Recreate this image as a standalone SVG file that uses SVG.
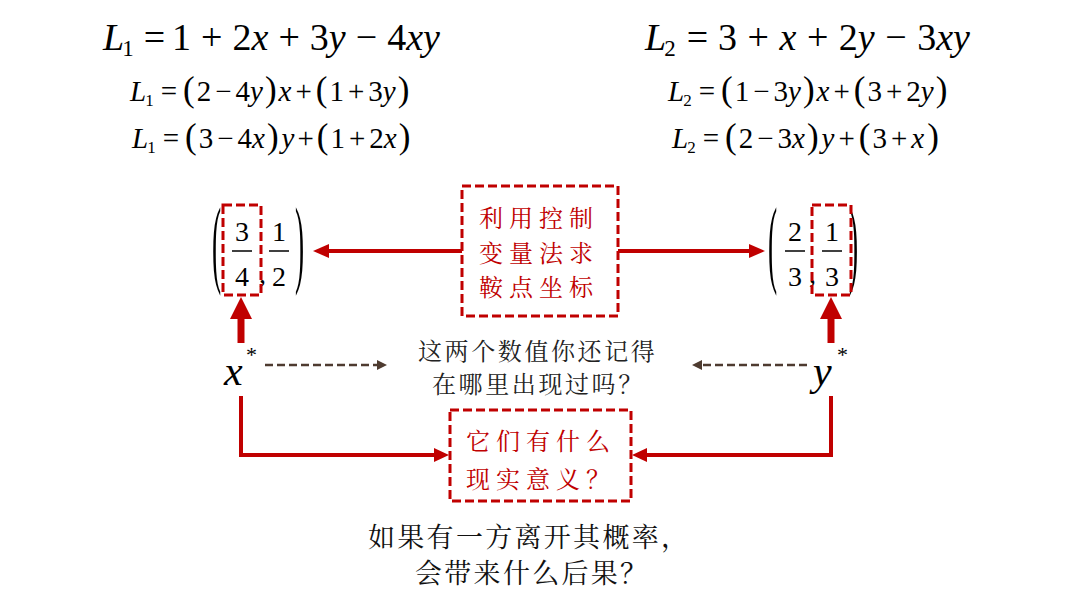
<svg xmlns="http://www.w3.org/2000/svg" width="1080" height="608" viewBox="0 0 1080 608">
<defs>
<style>
.i{font-style:italic}
.red{fill:#C00000}
.dbox{fill:none;stroke:#C00000;stroke-width:3;stroke-dasharray:9 4}
.rl{fill:none;stroke:#C00000;stroke-width:4}
.up{fill:none;stroke:#C00000;stroke-width:7}
.br{fill:none;stroke:#4E3B30;stroke-width:2.5;stroke-dasharray:8 4}
.bar{stroke:#000;stroke-width:1.5}
</style>
<marker id="ah" markerUnits="userSpaceOnUse" markerWidth="16" markerHeight="14" refX="6" refY="7" orient="auto"><path d="M0,0 L16,7 L0,14 z" fill="#C00000"/></marker>
<marker id="au" markerUnits="userSpaceOnUse" markerWidth="22" markerHeight="22" refX="8" refY="11" orient="auto"><path d="M0,0 L22,11 L0,22 z" fill="#C00000"/></marker>
<marker id="ac" markerUnits="userSpaceOnUse" markerWidth="15" markerHeight="14" refX="5" refY="7" orient="auto"><path d="M0,0 L15,7 L0,14 z" fill="#C00000"/></marker>
<marker id="ab" markerUnits="userSpaceOnUse" markerWidth="10" markerHeight="10" refX="3" refY="5" orient="auto"><path d="M0,0 L10,5 L0,10 z" fill="#4E3B30"/></marker>
</defs>
<rect width="1080" height="608" fill="#fff"/>

<g id="eq-left">
<text font-family="Liberation Serif" x="103" y="50" font-size="38"><tspan class="i">L</tspan><tspan font-size="23" dy="6" dx="-2">1</tspan><tspan dy="-6" dx="10">=</tspan><tspan dx="7">1</tspan><tspan dx="10">+</tspan><tspan dx="10">2</tspan><tspan class="i">x</tspan><tspan dx="10">+</tspan><tspan dx="10">3</tspan><tspan class="i">y</tspan><tspan dx="10">−</tspan><tspan dx="10">4</tspan><tspan class="i">xy</tspan></text>
<text font-family="Liberation Serif" x="130" y="101" font-size="29"><tspan class="i">L</tspan><tspan font-size="17" dy="5" dx="-1">1</tspan><tspan dy="-5" dx="7">=</tspan><tspan font-size="35" dx="6">(</tspan><tspan dx="2">2</tspan><tspan dx="4">−</tspan><tspan dx="4">4</tspan><tspan class="i">y</tspan><tspan font-size="35" dx="2">)</tspan><tspan class="i" dx="2">x</tspan><tspan dx="4">+</tspan><tspan font-size="35" dx="4">(</tspan><tspan dx="2">1</tspan><tspan dx="4">+</tspan><tspan dx="4">3</tspan><tspan class="i">y</tspan><tspan font-size="35" dx="2">)</tspan></text>
<text font-family="Liberation Serif" x="132" y="148" font-size="29"><tspan class="i">L</tspan><tspan font-size="17" dy="5" dx="-1">1</tspan><tspan dy="-5" dx="7">=</tspan><tspan font-size="35" dx="6">(</tspan><tspan dx="2">3</tspan><tspan dx="4">−</tspan><tspan dx="4">4</tspan><tspan class="i">x</tspan><tspan font-size="35" dx="2">)</tspan><tspan class="i" dx="3">y</tspan><tspan dx="3">+</tspan><tspan font-size="35" dx="3">(</tspan><tspan dx="2">1</tspan><tspan dx="4">+</tspan><tspan dx="4">2</tspan><tspan class="i">x</tspan><tspan font-size="35" dx="2">)</tspan></text>
</g>

<g id="eq-right">
<text font-family="Liberation Serif" x="645" y="50" font-size="38"><tspan class="i">L</tspan><tspan font-size="23" dy="6" dx="-2">2</tspan><tspan dy="-6" dx="11">=</tspan><tspan dx="10">3</tspan><tspan dx="10.5">+</tspan><tspan class="i" dx="10.5">x</tspan><tspan dx="10.5">+</tspan><tspan dx="10.5">2</tspan><tspan class="i">y</tspan><tspan dx="10.5">−</tspan><tspan dx="10.5">3</tspan><tspan class="i">xy</tspan></text>
<text font-family="Liberation Serif" x="668" y="101" font-size="29"><tspan class="i">L</tspan><tspan font-size="17" dy="5" dx="-1">2</tspan><tspan dy="-5" dx="7">=</tspan><tspan font-size="35" dx="6">(</tspan><tspan dx="2">1</tspan><tspan dx="4">−</tspan><tspan dx="4">3</tspan><tspan class="i">y</tspan><tspan font-size="35" dx="2">)</tspan><tspan class="i" dx="2">x</tspan><tspan dx="4">+</tspan><tspan font-size="35" dx="4">(</tspan><tspan dx="2">3</tspan><tspan dx="4">+</tspan><tspan dx="4">2</tspan><tspan class="i">y</tspan><tspan font-size="35" dx="2">)</tspan></text>
<text font-family="Liberation Serif" x="672" y="148" font-size="29"><tspan class="i">L</tspan><tspan font-size="17" dy="5" dx="-1">2</tspan><tspan dy="-5" dx="7">=</tspan><tspan font-size="35" dx="6">(</tspan><tspan dx="2">2</tspan><tspan dx="4">−</tspan><tspan dx="4">3</tspan><tspan class="i">x</tspan><tspan font-size="35" dx="2">)</tspan><tspan class="i" dx="3">y</tspan><tspan dx="4">+</tspan><tspan font-size="35" dx="4">(</tspan><tspan dx="2">3</tspan><tspan dx="4">+</tspan><tspan class="i" dx="4">x</tspan><tspan font-size="35" dx="3">)</tspan></text>
</g>

<g id="point-left">
<text font-family="Liberation Serif" font-size="98" transform="translate(212,275) scale(0.28,1)">(</text>
<text font-family="Liberation Serif" font-size="98" transform="translate(295,275) scale(0.28,1)">)</text>
<text font-family="Liberation Serif" font-size="28" x="242" y="241" text-anchor="middle">3</text>
<line class="bar" x1="232" y1="251" x2="252" y2="251"/>
<text font-family="Liberation Serif" font-size="28" x="242" y="286" text-anchor="middle">4</text>
<text font-family="Liberation Serif" font-size="28" x="259" y="283">,</text>
<text font-family="Liberation Serif" font-size="28" x="279" y="241" text-anchor="middle">1</text>
<line class="bar" x1="269" y1="251" x2="289" y2="251"/>
<text font-family="Liberation Serif" font-size="28" x="279" y="286" text-anchor="middle">2</text>
<rect class="dbox" x="223" y="205" width="38" height="90"/>
</g>

<g id="point-right">
<text font-family="Liberation Serif" font-size="98" transform="translate(768,275) scale(0.28,1)">(</text>
<text font-family="Liberation Serif" font-size="98" transform="translate(849,275) scale(0.28,1)">)</text>
<text font-family="Liberation Serif" font-size="28" x="795" y="241" text-anchor="middle">2</text>
<line class="bar" x1="785" y1="251" x2="805" y2="251"/>
<text font-family="Liberation Serif" font-size="28" x="795" y="286" text-anchor="middle">3</text>
<text font-family="Liberation Serif" font-size="28" x="809" y="283">,</text>
<text font-family="Liberation Serif" font-size="28" x="832" y="241" text-anchor="middle">1</text>
<line class="bar" x1="822" y1="251" x2="842" y2="251"/>
<text font-family="Liberation Serif" font-size="28" x="832" y="286" text-anchor="middle">3</text>
<rect class="dbox" x="812" y="205" width="39" height="90"/>
</g>

<g id="method-box">
<rect class="dbox" x="462" y="186" width="156" height="130" fill="#fff"/>
<text font-family="Noto Serif CJK SC, Noto Sans CJK SC, serif" class="red" font-size="24" letter-spacing="6">
<tspan x="479" y="227">利用控制</tspan>
<tspan x="479" y="262">变量法求</tspan>
<tspan x="479" y="296">鞍点坐标</tspan>
</text>
</g>

<g id="xstar">
<text font-family="Liberation Serif" class="i" font-size="42" x="224" y="385">x</text>
<text font-family="Liberation Serif" font-size="22" x="246" y="362">*</text>
</g>
<g id="ystar">
<text font-family="Liberation Serif" class="i" font-size="42" x="813" y="385">y</text>
<text font-family="Liberation Serif" font-size="22" x="837" y="362">*</text>
</g>

<g id="question">
<text font-family="Noto Serif CJK SC, Noto Sans CJK SC, serif" font-size="24" fill="#222" letter-spacing="2.6">
<tspan x="418" y="360">这两个数值你还记得</tspan>
<tspan x="432" y="393">在哪里出现过吗？</tspan>
</text>
</g>

<g id="meaning-box">
<rect class="dbox" x="450" y="410" width="181" height="91"/>
<text font-family="Noto Serif CJK SC, Noto Sans CJK SC, serif" class="red" font-size="24" letter-spacing="6">
<tspan x="466" y="450">它们有什么</tspan>
<tspan x="466" y="488">现实意义？</tspan>
</text>
</g>

<g id="bottom-text">
<text font-family="Noto Serif CJK SC, Noto Sans CJK SC, serif" font-size="27" fill="#111" letter-spacing="2.3">
<tspan x="368" y="547">如果有一方离开其概率，</tspan>
<tspan x="415" y="583">会带来什么后果？</tspan>
</text>
</g>

<g id="connectors">
<path class="rl" d="M462,251 H323" marker-end="url(#ah)"/>
<path class="rl" d="M618,251 H755" marker-end="url(#ah)"/>
<path class="up" d="M241,343 V311" marker-end="url(#au)"/>
<path class="up" d="M831,343 V311" marker-end="url(#au)"/>
<path class="rl" d="M241,396 V455 H439" marker-end="url(#ac)"/>
<path class="rl" d="M831,396 V455 H642" marker-end="url(#ac)"/>
<path class="br" d="M265,365 H380" marker-end="url(#ab)"/>
<path class="br" d="M807,365 H699" marker-end="url(#ab)"/>
</g>
</svg>
